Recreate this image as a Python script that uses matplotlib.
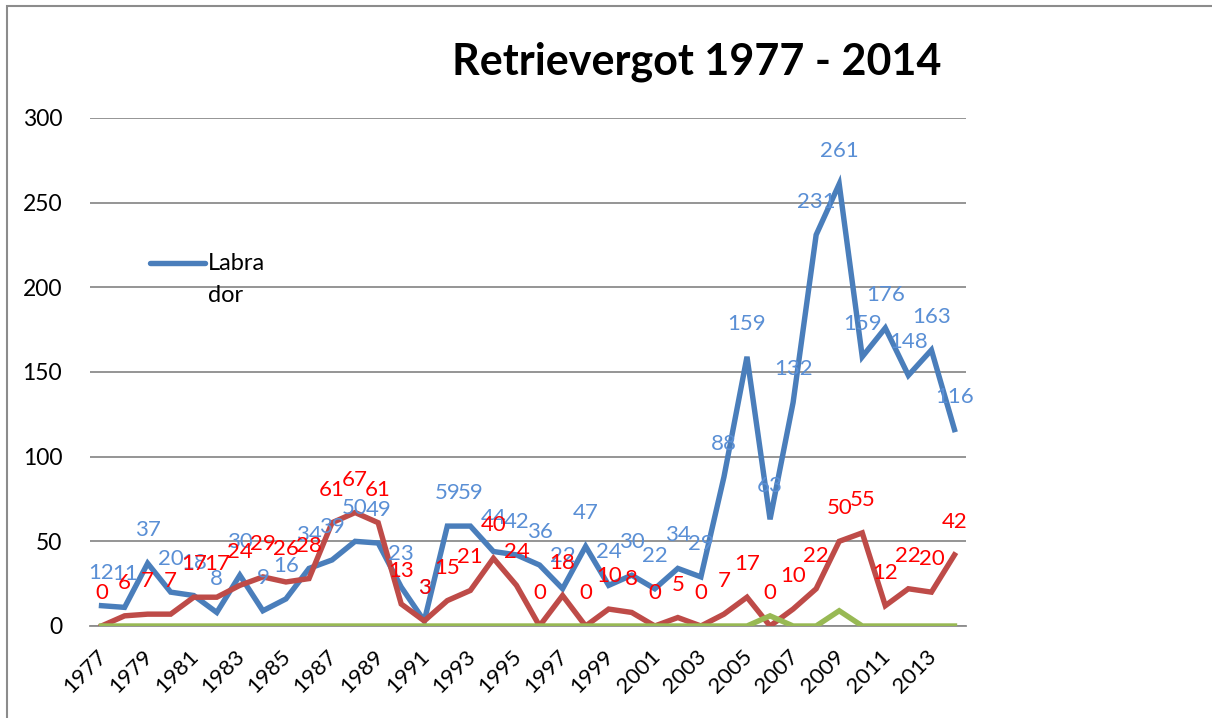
import matplotlib
matplotlib.use("Agg")
import matplotlib.pyplot as plt
from matplotlib.lines import Line2D
from matplotlib.patches import Rectangle
import matplotlib.transforms as mtransforms

plt.rcParams['font.family'] = ['Lato', 'DejaVu Sans']

years = list(range(1977, 2015))
labrador = [12, 11, 37, 20, 18, 8, 30, 9, 16, 34, 39, 50, 49, 23, 3, 59, 59, 44, 42, 36,
            22, 47, 24, 30, 22, 34, 29, 88, 159, 63, 132, 231, 261, 159, 176, 148, 163, 116]
series2 = [0, 6, 7, 7, 17, 17, 24, 29, 26, 28, 61, 67, 61, 13, 3, 15, 21, 40, 24, 0,
           18, 0, 10, 8, 0, 5, 0, 7, 17, 0, 10, 22, 50, 55, 12, 22, 20, 42]
series3 = [0] * 29 + [6, 0, 0, 9, 0, 0, 0, 0, 0]
title = "Retrievergot 1977 - 2014"
yticks = [0, 50, 100, 150, 200, 250, 300]

W, H = 1212, 718
fig = plt.figure(figsize=(W / 100, H / 100), dpi=100)
fig.patches.append(Rectangle((7 / W, -0.1), 1.2, 1 - 6 / H + 0.1, transform=fig.transFigure,
                             fill=False, edgecolor='#8c8c8c', lw=1.5))

ax = fig.add_axes([90 / W, 1 - 626 / H, (966 - 90) / W, (626 - 118) / H])
x = list(range(len(years)))
ax.plot(x, labrador, color='#4A7EBB', lw=3.9, solid_joinstyle='miter', zorder=3)
ax.plot(x, series2, color='#BE4B48', lw=3.9, solid_joinstyle='miter', zorder=4)
ax.plot(x, series3, color='#98B954', lw=3.9, solid_joinstyle='miter', zorder=5)

for xi, v in zip(x, labrador):
    ax.annotate(str(v), (xi, v), xytext=(0, 33), textcoords='offset pixels',
                ha='center', va='center', fontsize=16, color='#5A8FD5', zorder=6)
for xi, v in zip(x, series2):
    ax.annotate(str(v), (xi, v), xytext=(0, 33), textcoords='offset pixels',
                ha='center', va='center', fontsize=16, color='#FF0000', zorder=7)

ax.set_xlim(-0.5, len(years) - 0.5)
ax.set_ylim(0, 300)
ax.set_yticks(yticks)
ax.set_yticklabels([str(t) for t in yticks], fontsize=16.5)
ax.yaxis.grid(True, color='#8c8c8c', lw=1.3)
ax.set_axisbelow(True)
for s in ['top', 'right', 'left']:
    ax.spines[s].set_visible(False)
ax.spines['bottom'].set_color('#8c8c8c')
ax.spines['bottom'].set_linewidth(1.3)
ax.tick_params(axis='y', length=0, pad=20)
ax.set_xticks(x[::2])
ax.set_xticklabels([str(y) for y in years[::2]], rotation=45, ha='right', va='center',
                   rotation_mode='anchor', fontsize=16)
ax.tick_params(axis='x', length=0, pad=0)
offset = mtransforms.ScaledTranslation(2 / 100, -27 / 100, fig.dpi_scale_trans)
for lab in ax.get_xticklabels():
    lab.set_transform(lab.get_transform() + offset)

fig.text(697 / W, 1 - 62 / H, title, fontsize=31, fontweight='bold', ha='center', va='center')

fig.lines.append(Line2D([150 / W, 205 / W], [1 - 263 / H, 1 - 263 / H], transform=fig.transFigure,
                        color='#4A7EBB', lw=3.9, solid_capstyle='round'))
fig.text(208 / W, 1 - 263 / H, "Labra", fontsize=17, ha='left', va='center')
fig.text(208 / W, 1 - 296 / H, "dor", fontsize=17, ha='left', va='center')

fig.savefig("out.png", dpi=100)
